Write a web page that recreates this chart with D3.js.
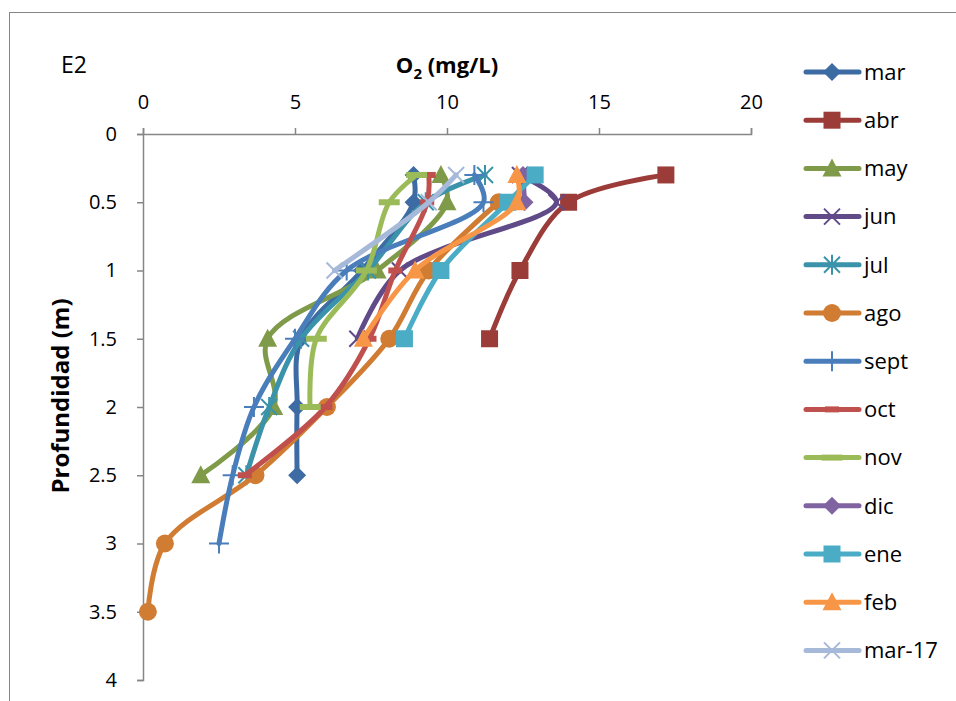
<!DOCTYPE html>
<html>
<head>
<meta charset="utf-8">
<script src="https://cdn.jsdelivr.net/npm/d3@7"></script>
<style>
  html, body { margin: 0; padding: 0; background: #fff; }
  svg { display: block; }
  text { font-family: "Open Sans", "Noto Sans", sans-serif; fill: #000; }
</style>
</head>
<body>
<svg id="chart" width="956" height="701"></svg>
<script>
// Depth levels (m) at which dissolved oxygen was measured
const depths = [0.3, 0.5, 1, 1.5, 2, 2.5, 3, 3.5];

// Monthly O2 profiles (mg/L), indexed by the depths above; null = not measured
const mar   = [8.9, 8.9, 7.2, 5.2, 5.07, 5.07];
const abr   = [17.2, 14.0, 12.4, 11.4];
const may   = [9.8, 10.0, 7.7, 4.1, 4.3, 1.9];
const jun   = [12.4, 13.6, 8.45, 7.05];
const jul   = [11.25, 9.3, 7.4, 5.2, 4.15, 3.4];
const ago   = [null, 11.7, 9.4, 8.1, 6.05, 3.7, 0.72, 0.16];
const sept  = [10.9, 11.2, 6.7, 5.0, 3.65, 2.95, 2.5];
const oct   = [9.4, 9.35, 8.3, 7.45, 6.0, 3.35];
const nov   = [9.0, 8.1, 7.35, 5.7, 5.5];
const dic   = [12.5, 12.55];
const ene   = [12.9, 12.0, 9.8, 8.6];
const feb   = [12.3, 12.3, 8.95, 7.25];
const mar17 = [10.3, 9.4, 6.3];

const seriesNames = ["mar", "abr", "may", "jun", "jul", "ago", "sept", "oct", "nov", "dic", "ene", "feb", "mar-17"];
const seriesValues = [mar, abr, may, jun, jul, ago, sept, oct, nov, dic, ene, feb, mar17];
const seriesColors = ["#3d6ba3", "#9c3c39", "#7f9b49", "#604a88", "#3a93aa", "#d07c33",
                      "#4a7ebb", "#c0504d", "#9bbb59", "#8064a2", "#4bacc6", "#f79646", "#a7b9d9"];
const seriesMarkers = ["diamond", "square", "triangle", "x", "star", "circle",
                       "plus", "dashShort", "dashLong", "diamond", "square", "triangle", "x"];

const xTicks = [0, 5, 10, 15, 20];
const yTicks = [0, 0.5, 1, 1.5, 2, 2.5, 3, 3.5, 4];

const svg = d3.select("#chart");

// outer chart frame
svg.append("rect")
  .attr("x", 9.5).attr("y", 12.5)
  .attr("width", 960).attr("height", 720)
  .attr("fill", "none").attr("stroke", "#868686").attr("stroke-width", 1);

const x = d3.scaleLinear().domain([0, 20]).range([143, 751]);
const y = d3.scaleLinear().domain([0, 4]).range([134, 680]);

// top (value) axis
const xAxis = svg.append("g")
  .attr("transform", `translate(0,${y(0)})`)
  .call(d3.axisTop(x).tickValues(xTicks).tickSize(6).tickFormat(d3.format("d")));
// left (depth) axis
const yAxis = svg.append("g")
  .attr("transform", `translate(${x(0)},0)`)
  .call(d3.axisLeft(y).tickValues(yTicks).tickSize(6).tickPadding(20).tickFormat(d => String(d)));

[xAxis, yAxis].forEach(ax => {
  ax.select(".domain").attr("stroke", "#868686").attr("stroke-width", 1.5);
  ax.selectAll(".tick line").attr("stroke", "#868686").attr("stroke-width", 1.5);
  ax.selectAll(".tick text")
    .style("font-family", "'Open Sans', 'Noto Sans', sans-serif")
    .style("font-size", "20px").attr("fill", "#000");
});
xAxis.selectAll(".tick text").attr("dy", "0.35em").attr("y", -32);

// titles
svg.append("text").attr("x", 61).attr("y", 65).attr("dy", "0.35em")
  .style("font-size", "23px").text("E2");

const title = svg.append("text").attr("x", 447).attr("y", 65).attr("dy", "0.35em")
  .attr("text-anchor", "middle")
  .style("font-size", "22px").style("font-weight", "bold");
title.append("tspan").text("O");
title.append("tspan").attr("dy", 6).style("font-size", "15px").text("2");
title.append("tspan").attr("dy", -6).text(" (mg/L)");

svg.append("text")
  .attr("transform", `translate(61,396) rotate(-90)`)
  .attr("text-anchor", "middle").attr("dy", "0.35em")
  .style("font-size", "24px").style("font-weight", "bold")
  .text("Profundidad (m)");

// marker drawing
function drawMarker(g, type, color, cx, cy) {
  const m = g.append("g").attr("transform", `translate(${cx},${cy})`);
  switch (type) {
    case "diamond":
      m.append("path").attr("d", "M0,-9L9,0L0,9L-9,0Z").attr("fill", color);
      break;
    case "square":
      m.append("rect").attr("x", -8.5).attr("y", -8.5).attr("width", 17).attr("height", 17).attr("fill", color);
      break;
    case "triangle":
      m.append("path").attr("d", "M0,-10L9.5,8L-9.5,8Z").attr("fill", color);
      break;
    case "circle":
      m.append("circle").attr("r", 9).attr("fill", color);
      break;
    case "x":
      m.append("path").attr("d", "M-8,-8L8,8M-8,8L8,-8").attr("stroke", color).attr("stroke-width", 2).attr("fill", "none");
      break;
    case "star":
      m.append("path").attr("d", "M-8,-8L8,8M-8,8L8,-8M0,-10L0,10").attr("stroke", color).attr("stroke-width", 2).attr("fill", "none");
      break;
    case "plus":
      m.append("path").attr("d", "M-10,0L10,0M0,-10L0,10").attr("stroke", color).attr("stroke-width", 2).attr("fill", "none");
      break;
    case "dashShort":
      m.append("rect").attr("x", -7).attr("y", -3).attr("width", 14).attr("height", 6).attr("fill", color);
      break;
    case "dashLong":
      m.append("rect").attr("x", -10.5).attr("y", -3).attr("width", 21).attr("height", 6).attr("fill", color);
      break;
  }
}

const line = d3.line()
  .x(d => x(d.v))
  .y(d => y(d.depth))
  .curve(d3.curveCatmullRom.alpha(0.5));

const plot = svg.append("g");
seriesNames.forEach((name, i) => {
  const pts = seriesValues[i]
    .map((v, k) => ({ depth: depths[k], v }))
    .filter(d => d.v !== null && d.v !== undefined);
  const g = plot.append("g");
  g.append("path")
    .datum(pts)
    .attr("d", line)
    .attr("fill", "none")
    .attr("stroke", seriesColors[i])
    .attr("stroke-width", 5)
    .attr("stroke-linejoin", "round")
    .attr("stroke-linecap", "round");
  pts.forEach(d => drawMarker(g, seriesMarkers[i], seriesColors[i], x(d.v), y(d.depth)));
});

// legend
const legend = svg.append("g");
seriesNames.forEach((name, i) => {
  const ly = 72 + i * 48.2;
  const g = legend.append("g");
  g.append("line")
    .attr("x1", 806).attr("x2", 859).attr("y1", ly).attr("y2", ly)
    .attr("stroke", seriesColors[i]).attr("stroke-width", 5).attr("stroke-linecap", "round");
  drawMarker(g, seriesMarkers[i], seriesColors[i], 832, ly);
  g.append("text").attr("x", 864).attr("y", ly).attr("dy", "0.35em")
    .style("font-size", "22px").text(name);
});
</script>
</body>
</html>
